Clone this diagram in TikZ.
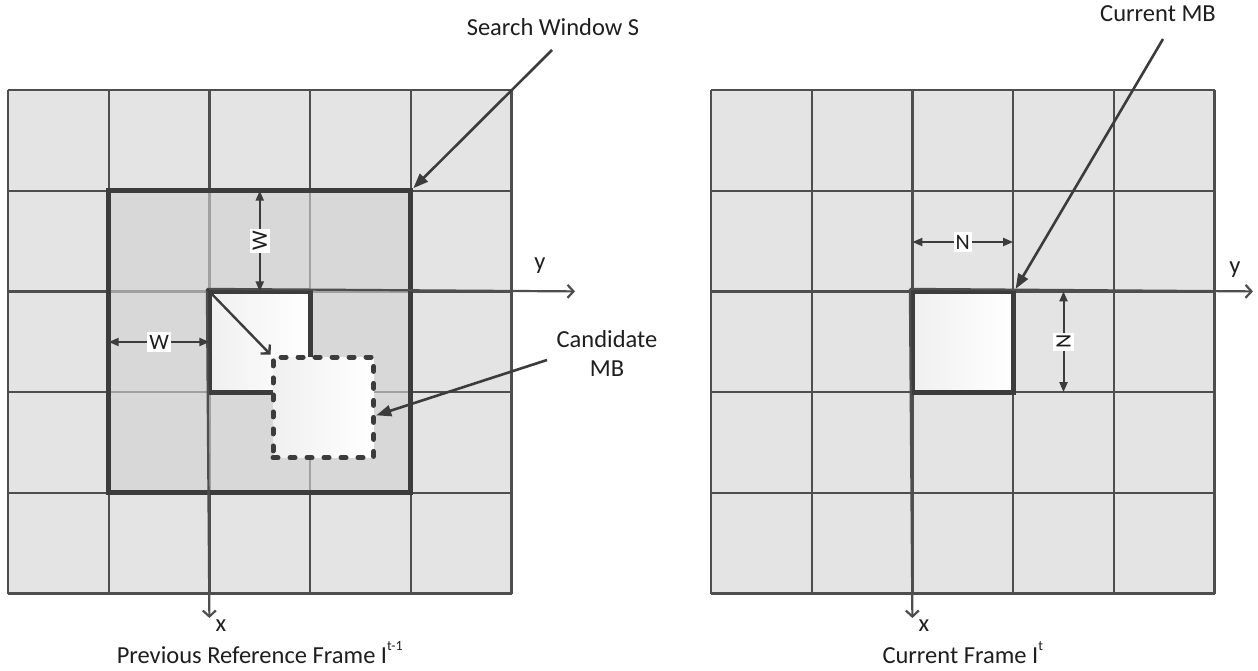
\documentclass[tikz,border=0pt]{standalone}
\usepackage{fontspec}
\setmainfont{Carlito}
\usetikzlibrary{arrows.meta,calc}
\definecolor{cellgray}{HTML}{E4E4E4}
\definecolor{wingray}{HTML}{D8D8D8}
\definecolor{linegray}{HTML}{4E4E4E}
\definecolor{softline}{HTML}{A0A0A0}
\definecolor{darkline}{HTML}{3C3C3C}
\definecolor{txt}{HTML}{1E1E1E}
\begin{document}
\begin{tikzpicture}[x=1pt,y=-1pt,
  font=\fontsize{24.5}{29}\selectfont,
  every node/.style={inner sep=0pt,text=txt},
  cellline/.style={draw=linegray,line width=2.2pt},
  softgrid/.style={draw=softline,line width=2.2pt},
  winframe/.style={draw=darkline,line width=5pt,minimum width=302.1pt,minimum height=302.1pt},
  mbbox/.style={draw=darkline,line width=5pt,left color=black!6,right color=white,
                minimum width=100.7pt,minimum height=100.7pt},
  candbox/.style={mbbox,dash pattern=on 5pt off 12pt,line cap=round},
  axisline/.style={draw=linegray,line width=2.2pt,-{Straight Barb[length=6pt,width=13pt]}},
  callout/.style={draw=darkline,line width=2.6pt,-{Triangle[length=15pt,width=11pt]}},
  dimline/.style={draw=darkline,line width=2pt,
                  {Triangle[length=10pt,width=8pt]}-{Triangle[length=10pt,width=8pt]}},
  dimlabel/.style={fill=white,inner xsep=2pt,inner ysep=3pt,font=\fontsize{22}{24}\selectfont}]
\useasboundingbox (0,0) rectangle (1258,670);

% ---------- left frame: previous reference frame ----------
\fill[cellgray] (8,90) rectangle (511.5,593.5);
\fill[wingray] (108.7,190.7) rectangle (410.8,492.8);
\foreach \i in {0,...,5}{
  \draw[cellline] (8+\i*100.7,90) -- (8+\i*100.7,593.5);
  \draw[cellline] (8,90+\i*100.7) -- (511.5,90+\i*100.7);
}
% lighter block borders inside the search window
\foreach \i in {1,2}{
  \draw[softgrid] (108.7+\i*100.7,190.7) -- (108.7+\i*100.7,492.8);
  \draw[softgrid] (108.7,190.7+\i*100.7) -- (410.8,190.7+\i*100.7);
}
\node[mbbox] (refmb) at (259.75,341.75) {};
\node[candbox] (cand) at (323.35,407.35) {};
\node[winframe] (win) at (259.75,341.75) {};

% axes of the previous frame
\coordinate (lyend) at (575,291.4);
\coordinate (lxend) at (209.4,618);
\draw[axisline] (refmb.north west) -- (lyend);
\draw[axisline] (refmb.north west) -- (lxend);
\node (ly) at (540,266) {y};
\node (lx) at (221,626) {x};

% displacement vector
\draw[axisline,draw=darkline,line width=2.4pt] (refmb.north west) -- (cand.north west);

% search range W
\coordinate (wh1) at (108.7,342);
\coordinate (wh2) at (209.4,342);
\coordinate (wv1) at (259.75,190.7);
\coordinate (wv2) at (259.75,291.4);
\draw[dimline] (wh1) -- node[dimlabel] (wlh) {W} (wh2);
\draw[dimline] (wv1) -- node[dimlabel,rotate=90] (wlv) {W} (wv2);

% callouts
\node (swlabel) at (553,27) {Search Window S};
\coordinate (swtail) at (552,50);
\draw[callout] (swtail) -- (win.north east);
\node[align=center] (candlabel) at (607,353) {Candidate\\MB};
\coordinate (cdtail) at (547,360);
\draw[callout] (cdtail) -- ([yshift=-8pt]cand.east);

\node[anchor=base] (lcap) at (259.75,663)
  {Previous Reference Frame I\raisebox{0.5em}{\fontsize{14}{14}\selectfont t-1}};

% ---------- right frame: current frame ----------
\fill[cellgray] (711,90) rectangle (1214.5,593.5);
\foreach \i in {0,...,5}{
  \draw[cellline] (711+\i*100.7,90) -- (711+\i*100.7,593.5);
  \draw[cellline] (711,90+\i*100.7) -- (1214.5,90+\i*100.7);
}
\node[mbbox] (cmb) at (962.75,341.75) {};

\coordinate (ryend) at (1253,291.4);
\coordinate (rxend) at (912.4,618);
\draw[axisline] (cmb.north west) -- (ryend);
\draw[axisline] (cmb.north west) -- (rxend);
\node (ry) at (1235,270) {y};
\node (rx) at (924,626) {x};

\coordinate (nh1) at (912.4,242);
\coordinate (nh2) at (1013.1,242);
\coordinate (nv1) at (1063.5,291.4);
\coordinate (nv2) at (1063.5,392.1);
\draw[dimline] (nh1) -- node[dimlabel] (nlh) {N} (nh2);
\draw[dimline] (nv1) -- node[dimlabel,rotate=90] (nlv) {N} (nv2);

\node (cmblabel) at (1158,14) {Current MB};
\coordinate (cmbtail) at (1163,39);
\draw[callout] (cmbtail) -- (cmb.north east);

\node[anchor=base] (rcap) at (962.75,663)
  {Current Frame I\raisebox{0.5em}{\fontsize{14}{14}\selectfont t}};
\end{tikzpicture}
\end{document}
